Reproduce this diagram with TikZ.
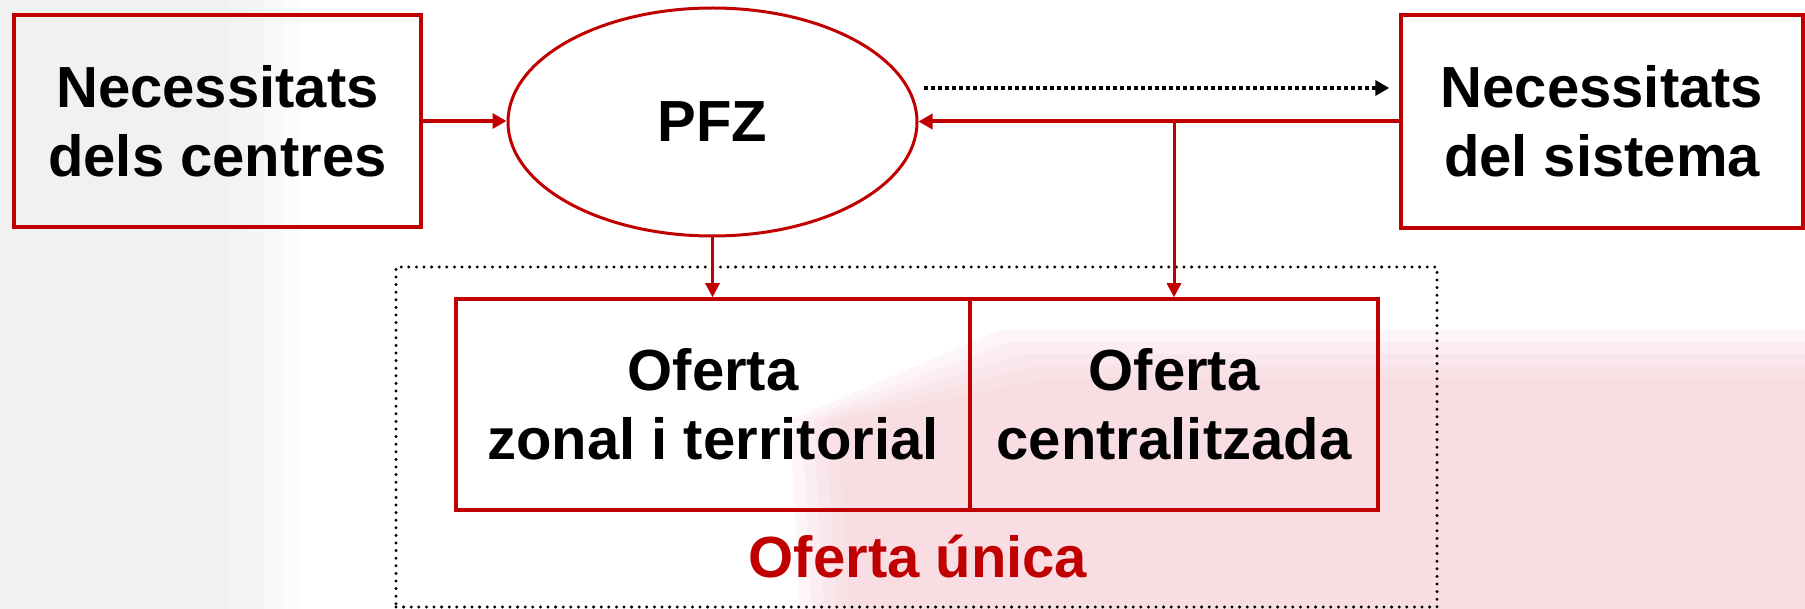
\documentclass[tikz,border=0pt]{standalone}
\usepackage{fontspec}
\setmainfont{Liberation Sans}
\usetikzlibrary{arrows.meta,shapes.geometric,calc}
\definecolor{dred}{RGB}{192,0,0}
\definecolor{wmpink}{RGB}{245,209,216}
\definecolor{wmgray}{RGB}{236,236,236}
\begin{document}
\begin{tikzpicture}[x=1pt,y=-1pt,
  txt/.style={font=\fontsize{58}{69}\selectfont\bfseries, align=center, text=black},
  boxnode/.style={draw=dred, line width=3.5pt, rectangle, inner sep=0pt, txt},
  ovalnode/.style={draw=dred, line width=3pt, ellipse, fill=white, inner sep=0pt, txt},
  thickarrow/.style={draw=dred, line width=4pt, -{Triangle[length=14pt,width=15pt]}},
  downarrow/.style={draw=dred, line width=3pt, -{Triangle[length=14pt,width=14pt]}},
  dotarrow/.style={draw=black, line width=3.5pt, dash pattern=on 4pt off 3pt, -{Triangle[length=14pt,width=15pt]}},
  dotframe/.style={draw=black, line width=3.3pt, line cap=round, dash pattern=on 0pt off 7.6pt},
  wm/.style={opacity=0.22}
]
\useasboundingbox (0,0) rectangle (1805,609);
% faint watermark background (soft edges by layering)
\foreach \d in {0,12,24,36,48} {
  \fill[wmgray, wm] (0,0) rectangle (300-1.5*\d,609);
  \fill[wmpink, wm] (790+\d,420) -- (1000+\d,330+\d) -- (1805,330+\d) -- (1805,609) -- (800+\d,609) -- cycle;
}

% nodes
\node[boxnode, minimum width=407pt, minimum height=212pt] (lbox) at (217.5,121) {Necessitats\\dels centres};
\node[ovalnode, minimum width=409pt, minimum height=228pt] (pfz) at (712.5,122) {PFZ};
\node[boxnode, minimum width=402pt, minimum height=213pt] (rbox) at (1602,121.5) {Necessitats\\del sistema};
\node[dotframe, rectangle, minimum width=1041pt, minimum height=340pt, inner sep=0pt] (frame) at (916.5,437) {};
\node[boxnode, minimum width=514pt, minimum height=211pt] (lcell) at (713,404.5) {Oferta\\zonal i territorial};
\node[boxnode, minimum width=408pt, minimum height=211pt] (rcell) at (1174,404.5) {Oferta\\centralitzada};
\node[txt, text=dred, anchor=base] (unica) at (918,577) {Oferta única};

% connectors
\draw[thickarrow] (lbox.east) -- (lbox.east -| pfz.west);
\draw[thickarrow] (rbox.west) -- (rbox.west -| pfz.east);
\coordinate (dA) at (924,88);
\draw[dotarrow, shorten >=10pt] (dA) -- (dA -| rbox.west);
\draw[downarrow] (rcell.north |- rbox.west) -- (rcell.north);
\draw[downarrow] (pfz.south) -- (pfz.south |- lcell.north);
\end{tikzpicture}
\end{document}
